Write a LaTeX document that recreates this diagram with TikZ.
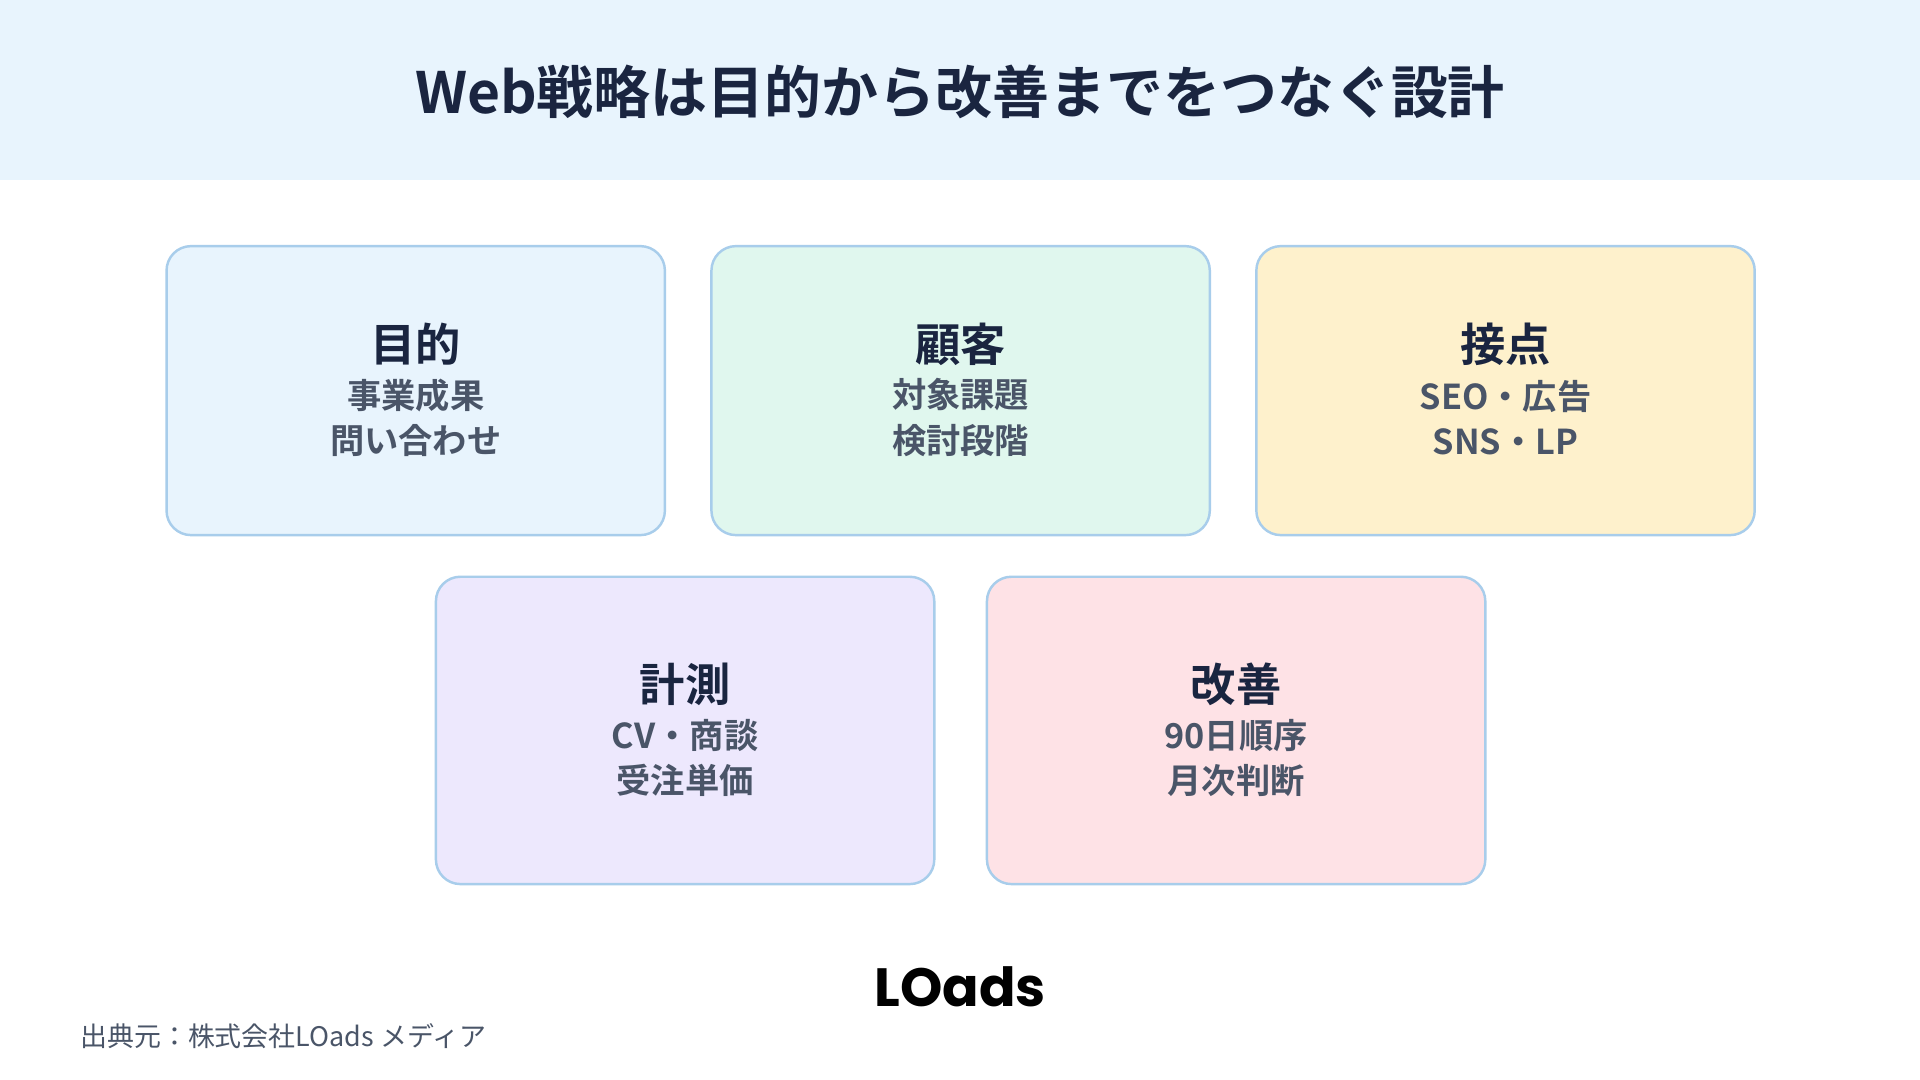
\documentclass[tikz,border=0pt]{standalone}
\usepackage{fontspec}
\setmainfont{Noto Sans CJK JP}
\newfontfamily\bfjp{Noto Sans CJK JP Bold}
\newfontfamily\logofont{Poppins Bold}
\definecolor{hdr}{HTML}{E8F4FD}
\definecolor{navy}{HTML}{1A2540}
\definecolor{sub}{HTML}{4A5568}
\definecolor{edge}{HTML}{A8CDEB}
\definecolor{fa}{HTML}{E8F4FD}
\definecolor{fb}{HTML}{E0F7EE}
\definecolor{fc}{HTML}{FEF1CC}
\definecolor{fd}{HTML}{EDE8FD}
\definecolor{fe}{HTML}{FEE2E6}
\tikzset{
 card/.style={draw=edge,line width=2pt,rounded corners=20pt,minimum width=407pt,inner sep=0pt},
 ctitle/.style={font=\bfjp\fontsize{37}{42}\selectfont,text=navy},
 csub/.style={font=\bfjp\fontsize{28}{37}\selectfont,text=sub,align=center}
}
\begin{document}
\begin{tikzpicture}[x=1pt,y=-1pt]
\useasboundingbox (0,0) rectangle (1568,882);
\fill[white] (0,0) rectangle (1568,882);
\fill[hdr] (0,0) rectangle (1568,147);
\node[font=\bfjp\fontsize{46.5}{52}\selectfont,text=navy] (title) at (784,75) {Web戦略は目的から改善までをつなぐ設計};
\node[card,fill=fa,minimum height=236pt] (c1) at (339.5,319) {};
\node[card,fill=fb,minimum height=236pt] (c2) at (784.5,319) {};
\node[card,fill=fc,minimum height=236pt] (c3) at (1229.5,319) {};
\node[card,fill=fd,minimum height=251pt] (c4) at (559.5,596.5) {};
\node[card,fill=fe,minimum height=251pt] (c5) at (1009.5,596.5) {};
\node[ctitle] (t1) at (339.5,281) {目的};
\node[csub] (s1) at (339.5,341) {事業成果\\問い合わせ};
\node[ctitle] (t2) at (784.5,281) {顧客};
\node[csub] (s2) at (784.5,341) {対象課題\\検討段階};
\node[ctitle] (t3) at (1229.5,281) {接点};
\node[csub] (s3) at (1229.5,341) {SEO・広告\\SNS・LP};
\node[ctitle] (t4) at (559.5,559) {計測};
\node[csub] (s4) at (559.5,619) {CV・商談\\受注単価};
\node[ctitle] (t5) at (1009.5,559) {改善};
\node[csub] (s5) at (1009.5,619) {90日順序\\月次判断};
\node[font=\logofont\fontsize{44}{48}\selectfont,text=black] (logo) at (784,806) {LOads};
\node[anchor=west,font=\fontsize{22}{25}\selectfont,text=sub] (src) at (62,846) {出典元：株式会社LOads メディア};
\end{tikzpicture}
\end{document}
